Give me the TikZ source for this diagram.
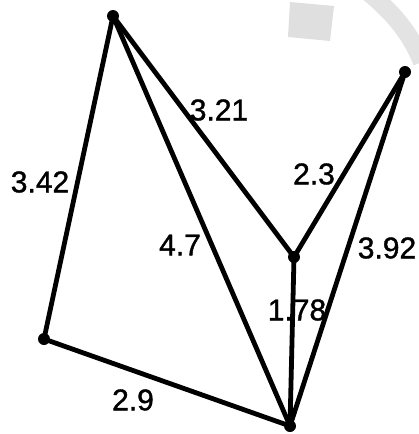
\documentclass[tikz,border=0pt]{standalone}
\usepackage{fontspec}
\setmainfont{Liberation Sans}
\newfontfamily\lblfont[FakeBold=1.2]{Liberation Sans}
\begin{document}
\begin{tikzpicture}[x=1pt,y=-1pt,
  vtx/.style={circle,fill=black,inner sep=0pt,minimum size=12pt},
  edge/.style={line width=4.8pt,line cap=round},
  lbl/.style={font=\lblfont\fontsize{30}{30}\selectfont,inner sep=0pt}]
\useasboundingbox (0,0) rectangle (419,434);
% faint background marks
\fill[gray!25] (290,2) -- (334,6) -- (330,41) -- (288,37) -- cycle;
\draw[gray!22,line width=18pt] (368,-8) .. controls (392,12) and (410,32) .. (422,62);
% vertices
\node[vtx] (A) at (113,16) {};
\node[vtx] (R) at (405,72) {};
\node[vtx] (M) at (294,257) {};
\node[vtx] (L) at (44,339) {};
\node[vtx] (B) at (290,426) {};
% edges
\draw[edge] (A.center) -- (L.center);
\draw[edge] (L.center) -- (B.center);
\draw[edge] (A.center) -- (B.center);
\draw[edge] (A.center) -- (M.center);
\draw[edge] (M.center) -- (R.center);
\draw[edge] (R.center) -- (B.center);
\draw[edge] (M.center) -- (B.center);
% labels
\node[lbl] (l1) at (40,182) {3.42};
\node[lbl] (l2) at (219,110) {3.21};
\node[lbl] (l3) at (314,174) {2.3};
\node[lbl] (l4) at (180,245) {4.7};
\node[lbl] (l5) at (387,248) {3.92};
\node[lbl] (l6) at (297,310) {1.78};
\node[lbl] (l7) at (133,400) {2.9};
\end{tikzpicture}
\end{document}
